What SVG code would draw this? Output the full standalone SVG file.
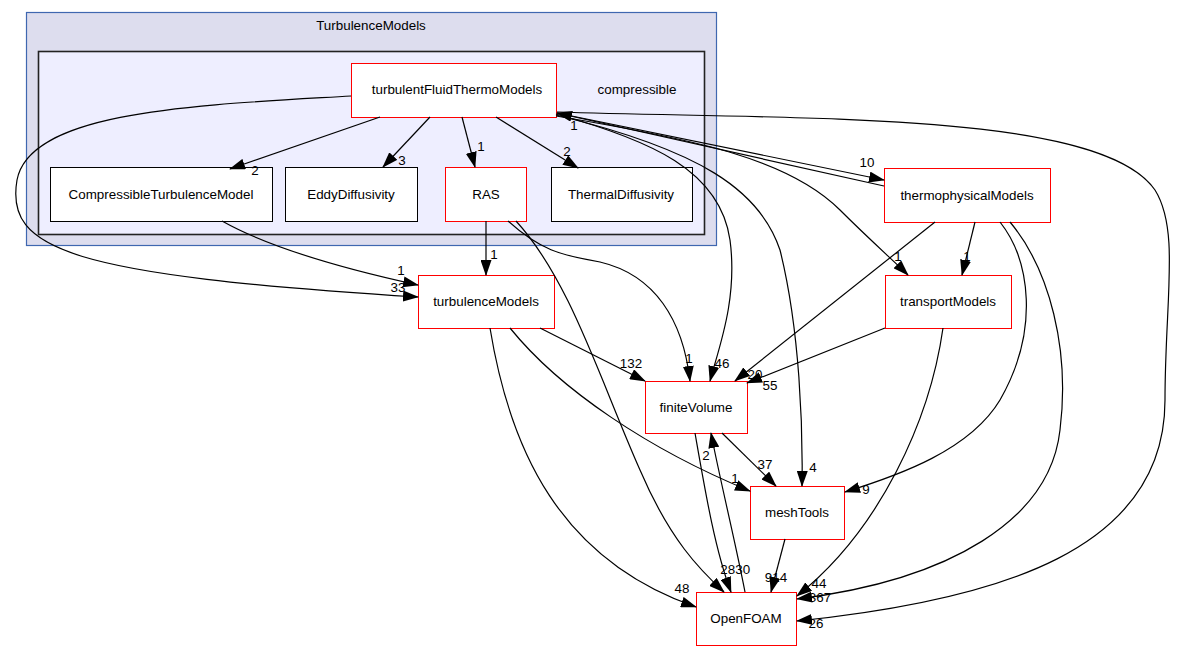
<svg xmlns="http://www.w3.org/2000/svg" width="1188" height="661" viewBox="0 0 1188 661">
<defs>
<marker id="ah" markerWidth="16" markerHeight="11" refX="15" refY="5.5" orient="auto" markerUnits="userSpaceOnUse">
<path d="M0,0 L16,5.5 L0,11 z" fill="#000"/>
</marker>
<style>
text{font-family:"Liberation Sans",Arial,sans-serif;font-size:13.4px;fill:#000}
.n{text-anchor:middle}
.lbl{text-anchor:middle;font-size:13.4px}
.box{fill:#fff;stroke:#000;stroke-width:1}
.red{fill:#fff;stroke:#ff0000;stroke-width:1}
.e{fill:none;stroke:#000;stroke-width:1.2;marker-end:url(#ah)}
</style>
</defs>
<rect width="1188" height="661" fill="#fff"/>
<g id="cluster-TurbulenceModels">
<rect x="26.5" y="12.5" width="690" height="233" fill="#ddddee" stroke="#3f67b0" stroke-width="1.2"/>
<text class="n" x="371" y="30">TurbulenceModels</text>
</g>
<g id="cluster-compressible">
<rect x="38.5" y="51.5" width="666" height="183" fill="#eeeeff" stroke="#222" stroke-width="1.6"/>
<text class="n" x="637" y="94">compressible</text>
</g>
<g id="node-turbulentFluidThermoModels">
<rect class="red" x="351.5" y="63.5" width="205" height="54"/>
<text class="n" x="457" y="94">turbulentFluidThermoModels</text>
</g>
<g id="node-CompressibleTurbulenceModel">
<rect class="box" x="50.5" y="167.5" width="222" height="54"/>
<text class="n" x="161" y="199">CompressibleTurbulenceModel</text>
</g>
<g id="node-EddyDiffusivity">
<rect class="box" x="285.5" y="167.5" width="132" height="54"/>
<text class="n" x="351" y="199">EddyDiffusivity</text>
</g>
<g id="node-RAS">
<rect class="red" x="445.5" y="167.5" width="81" height="54"/>
<text class="n" x="486" y="199">RAS</text>
</g>
<g id="node-ThermalDiffusivity">
<rect class="box" x="551.5" y="167.5" width="141" height="54"/>
<text class="n" x="621" y="199">ThermalDiffusivity</text>
</g>
<g id="node-thermophysicalModels">
<rect class="red" x="884.5" y="168.5" width="166" height="54"/>
<text class="n" x="967" y="200">thermophysicalModels</text>
</g>
<g id="node-turbulenceModels">
<rect class="red" x="418.5" y="275.5" width="136" height="53"/>
<text class="n" x="486" y="306">turbulenceModels</text>
</g>
<g id="node-transportModels">
<rect class="red" x="885.5" y="275.5" width="126" height="53"/>
<text class="n" x="948" y="306">transportModels</text>
</g>
<g id="node-finiteVolume">
<rect class="red" x="645.5" y="381.5" width="102" height="52"/>
<text class="n" x="696" y="412">finiteVolume</text>
</g>
<g id="node-meshTools">
<rect class="red" x="750.5" y="486.5" width="94" height="53"/>
<text class="n" x="797" y="517">meshTools</text>
</g>
<g id="node-OpenFOAM">
<rect class="red" x="696.5" y="592.5" width="100" height="53"/>
<text class="n" x="746" y="623">OpenFOAM</text>
</g>
<g id="connectors">
<path class="e" d="M380,117 L230,169"/>
<path class="e" d="M430,117 L383,167"/>
<path class="e" d="M462,117 L475,167"/>
<path class="e" d="M496,117 L578,168"/>
<path class="e" d="M351,96 C200,105 30,110 17,180 C5,250 70,275 418,297"/>
<path class="e" d="M222,221 C270,248 340,268 418,285"/>
<path class="e" d="M486,221 L486,275"/>
<path class="e" d="M508,221 C540,250 560,255 600,262 C655,275 683,320 690,381"/>
<path class="e" d="M516,221 C570,280 600,380 640,470 C670,540 700,570 724,592"/>
<path class="e" d="M556,114 C650,140 720,170 730,240 C738,300 718,350 710,381"/>
<path class="e" d="M556,115 C700,150 760,190 780,250 C800,330 803,430 802,486"/>
<path class="e" d="M557,113 L884,180"/>
<path class="e" d="M884,186 L557,113"/>
<path class="e" d="M556,116 C700,140 790,160 840,210 C870,240 895,262 908,275"/>
<path class="e" d="M557,112 C800,120 1100,110 1155,190 C1180,230 1165,300 1165,400 C1165,550 1000,600 797,621"/>
<path class="e" d="M975,222 L962,275"/>
<path class="e" d="M935,222 L735,381"/>
<path class="e" d="M1000,222 C1030,260 1040,330 1000,400 C970,450 900,475 845,492"/>
<path class="e" d="M1010,222 C1050,270 1070,350 1060,430 C1050,520 950,580 797,599"/>
<path class="e" d="M885,328 L747,383"/>
<path class="e" d="M943,328 C930,420 880,530 797,596"/>
<path class="e" d="M540,328 L645,381"/>
<path class="e" d="M510,328 C560,390 650,450 750,491"/>
<path class="e" d="M490,328 C510,450 560,560 696,607"/>
<path class="e" d="M722,433 L776,486"/>
<path class="e" d="M695,433 C705,490 715,550 731,592"/>
<path class="e" d="M745,592 C735,540 720,480 711,433"/>
<path class="e" d="M785,539 L771,592"/>
<text class="lbl" x="255" y="175">2</text>
<text class="lbl" x="402" y="165">3</text>
<text class="lbl" x="481" y="151">1</text>
<text class="lbl" x="567" y="156">2</text>
<text class="lbl" x="574" y="130">1</text>
<text class="lbl" x="867" y="167">10</text>
<text class="lbl" x="398" y="292">33</text>
<text class="lbl" x="401" y="275">1</text>
<text class="lbl" x="494" y="259">1</text>
<text class="lbl" x="689" y="363">1</text>
<text class="lbl" x="722" y="368">46</text>
<text class="lbl" x="755" y="379">20</text>
<text class="lbl" x="770" y="390">55</text>
<text class="lbl" x="631" y="368">132</text>
<text class="lbl" x="898" y="261">1</text>
<text class="lbl" x="967" y="261">1</text>
<text class="lbl" x="765" y="469">37</text>
<text class="lbl" x="813" y="472">4</text>
<text class="lbl" x="735" y="483">1</text>
<text class="lbl" x="866" y="494">9</text>
<text class="lbl" x="706" y="460">2</text>
<text class="lbl" x="724" y="574">2</text>
<text class="lbl" x="739" y="574">830</text>
<text class="lbl" x="776" y="582">914</text>
<text class="lbl" x="682" y="593">48</text>
<text class="lbl" x="819" y="588">44</text>
<text class="lbl" x="820" y="602">367</text>
<text class="lbl" x="816" y="628">26</text>
</g>
</svg>
